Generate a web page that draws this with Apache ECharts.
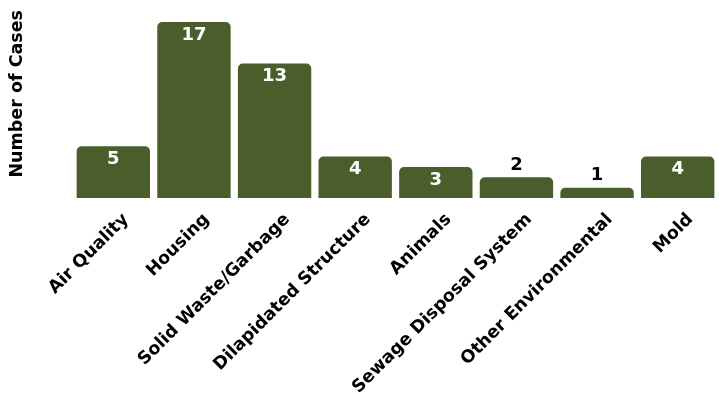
<!DOCTYPE html>
<html><head><meta charset="utf-8">
<script src="https://cdn.jsdelivr.net/npm/echarts@6/dist/echarts.min.js"></script>
<style>html,body{margin:0;padding:0;background:#fff}#c{width:719px;height:394px}</style>
</head><body><div id="c"></div>
<script>
const categories = ["Air Quality","Housing","Solid Waste/Garbage","Dilapidated Structure","Animals","Sewage Disposal System","Other Environmental","Mold"];
const cases = [5,17,13,4,3,2,1,4];
const yTitle = "Number of Cases";
const FONT = "'DejaVu Sans', Verdana, sans-serif";
const chart = echarts.init(document.getElementById('c'));
chart.setOption({
  animation:false,
  grid:{left:73,right:1,top:22,bottom:196,containLabel:false,outerBoundsMode:'none'},
  xAxis:{type:'category',data:categories,
    axisLine:{show:false},axisTick:{show:false},
    axisLabel:{rotate:45,interval:0,margin:6,align:'right',verticalAlign:'top',padding:[9,0,0,0],color:'#000',fontFamily:FONT,fontWeight:'bold',fontSize:17.5}},
  yAxis:{type:'value',min:0,max:17,show:true,axisLine:{show:false},axisTick:{show:false},axisLabel:{show:false},splitLine:{show:false}},
  graphic:[{type:'text',left:8,top:10,rotation:Math.PI/2,
    style:{text:yTitle,fill:'#000',font:"bold 17.5px "+FONT}}],
  series:[{type:'bar',data:cases.map(v=>({value:v,label:v<=2?{position:'top',color:'#000',distance:3}:{}})),
    barCategoryGap:'9%',
    itemStyle:{color:'#4a5e2c',borderRadius:[5,5,0,0]},
    label:{show:true,position:'insideTop',distance:4,color:'#fff',fontFamily:FONT,fontWeight:'bold',fontSize:18}}]
});
</script></body></html>
